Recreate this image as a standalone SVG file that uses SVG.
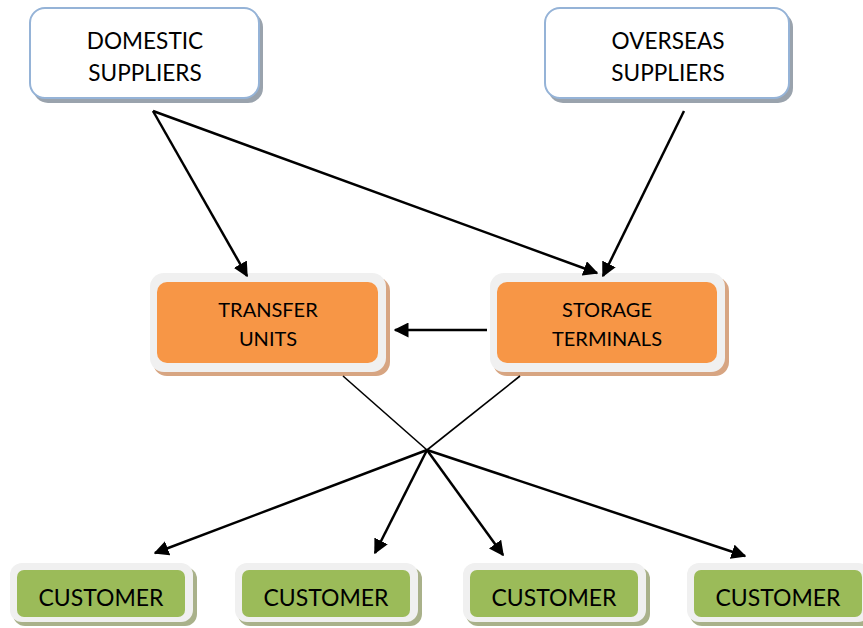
<svg xmlns="http://www.w3.org/2000/svg" width="863" height="628" viewBox="0 0 863 628">
<defs>
<style>
.sup{fill:#fff;stroke:#95b3d7;stroke-width:2}
.supsh{fill:#9aa3ad}
.frame{fill:#f0f0f0}
.frsh{fill:#c9c9c9}
.orsh{fill:#d7a582}
.org{fill:#f79646}
.grsh{fill:#a9b18a}
.grn{fill:#9bbb59}
text{font-family:Lato,"Liberation Sans",sans-serif;fill:#000;text-anchor:middle}
.t1{font-size:22.6px}
.t3{font-size:23px}
.t2{font-size:20px}
.c{stroke:#000;fill:none}
</style>
<marker id="ah" viewBox="0 0 10 10" refX="9" refY="5" markerWidth="6" markerHeight="6" markerUnits="strokeWidth" orient="auto">
<path d="M0,0 L10,5 L0,10 z" fill="#000"/>
</marker>
</defs>
<g id="domestic">
<rect class="supsh" x="33" y="12" width="230" height="91" rx="15"/>
<rect class="sup" x="30" y="8" width="229" height="90" rx="15"/>
<text class="t1" x="145" y="49">DOMESTIC</text>
<text class="t1" x="145" y="81">SUPPLIERS</text>
</g>
<g id="overseas">
<rect class="supsh" x="548" y="12" width="245" height="91" rx="15"/>
<rect class="sup" x="545" y="8" width="244" height="90" rx="15"/>
<text class="t1" x="668" y="49">OVERSEAS</text>
<text class="t1" x="668" y="81">SUPPLIERS</text>
</g>
<g id="transfer">
<rect class="orsh" x="153" y="277" width="237" height="99" rx="14"/>
<rect class="frame" x="150" y="273" width="236" height="99" rx="14"/>
<rect class="org" x="157" y="282" width="221" height="81" rx="10"/>
<text class="t2" x="268" y="317">TRANSFER</text>
<text class="t2" x="268" y="346">UNITS</text>
</g>
<g id="storage">
<rect class="orsh" x="493" y="277" width="236" height="99" rx="14"/>
<rect class="frame" x="490" y="273" width="235" height="99" rx="14"/>
<rect class="org" x="497" y="282" width="220" height="81" rx="10"/>
<text class="t2" x="607" y="317">STORAGE</text>
<text class="t2" x="607" y="346">TERMINALS</text>
</g>
<g id="customer1">
<rect class="grsh" x="13" y="567" width="184" height="59" rx="12"/>
<rect class="frame" x="10" y="563" width="183" height="59" rx="12"/>
<rect class="grn" x="17" y="570" width="168" height="47" rx="7"/>
<text class="t3" x="101" y="606">CUSTOMER</text>
</g>
<g id="customer2">
<rect class="grsh" x="238" y="567" width="184" height="59" rx="12"/>
<rect class="frame" x="235" y="563" width="183" height="59" rx="12"/>
<rect class="grn" x="242" y="570" width="168" height="47" rx="7"/>
<text class="t3" x="326" y="606">CUSTOMER</text>
</g>
<g id="customer3">
<rect class="grsh" x="466" y="567" width="184" height="59" rx="12"/>
<rect class="frame" x="463" y="563" width="183" height="59" rx="12"/>
<rect class="grn" x="470" y="570" width="168" height="47" rx="7"/>
<text class="t3" x="554" y="606">CUSTOMER</text>
</g>
<g id="customer4">
<rect class="grsh" x="690" y="567" width="184" height="59" rx="12"/>
<rect class="frame" x="687" y="563" width="183" height="59" rx="12"/>
<rect class="grn" x="694" y="570" width="168" height="47" rx="7"/>
<text class="t3" x="778" y="606">CUSTOMER</text>
</g>
<g id="connectors">
<line class="c" stroke-width="2.5" x1="153" y1="111" x2="247" y2="276" marker-end="url(#ah)"/>
<line class="c" stroke-width="2.5" x1="153" y1="111" x2="597" y2="273" marker-end="url(#ah)"/>
<line class="c" stroke-width="2.5" x1="684" y1="111" x2="603" y2="276" marker-end="url(#ah)"/>
<line class="c" stroke-width="2.5" x1="487" y1="330" x2="395" y2="330" marker-end="url(#ah)"/>
<line class="c" stroke-width="1.6" x1="343" y1="376" x2="427" y2="450"/>
<line class="c" stroke-width="1.6" x1="520" y1="376" x2="427" y2="450"/>
<line class="c" stroke-width="2.5" x1="427" y1="450" x2="155" y2="553" marker-end="url(#ah)"/>
<line class="c" stroke-width="2.5" x1="427" y1="450" x2="375" y2="553" marker-end="url(#ah)"/>
<line class="c" stroke-width="2.5" x1="427" y1="450" x2="503" y2="555" marker-end="url(#ah)"/>
<line class="c" stroke-width="2.5" x1="427" y1="450" x2="745" y2="556" marker-end="url(#ah)"/>
</g>
</svg>
